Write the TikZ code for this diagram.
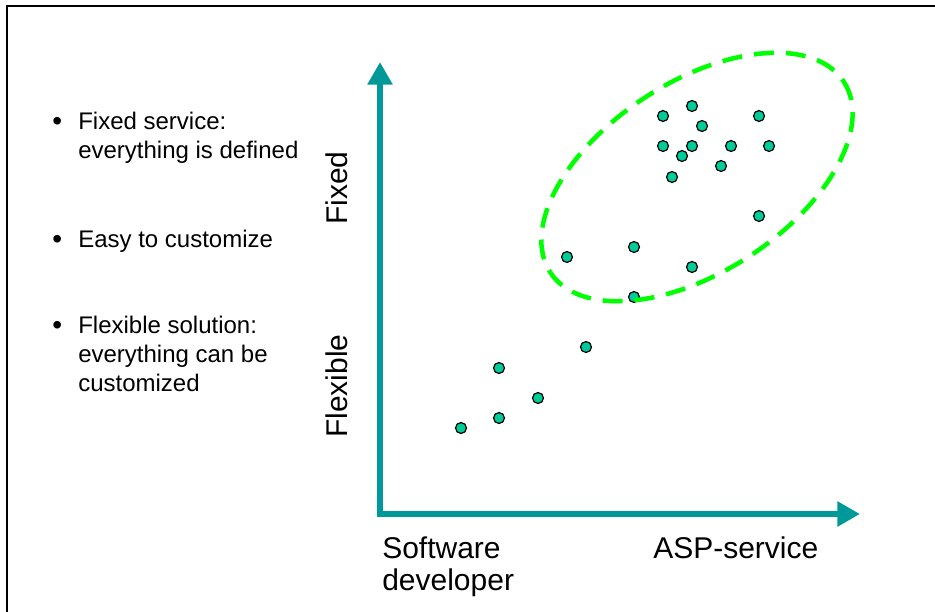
\documentclass[tikz,border=0pt]{standalone}
\usepackage{fontspec}
\setmainfont{Liberation Sans}
\usepackage{tikz}
\usetikzlibrary{arrows.meta}

\definecolor{axisteal}{RGB}{0,153,153}
\definecolor{dotgreen}{RGB}{0,204,153}
\definecolor{ringgreen}{RGB}{0,255,0}

\begin{document}
\begin{tikzpicture}[x=0.75pt,y=-0.75pt,
	dot/.style={shape=circle,draw=black,line width=0.9pt,fill=dotgreen,minimum size=8.2pt,inner sep=0pt},
	axis/.style={draw=axisteal,line width=4.5pt,line join=miter,{Triangle[length=17pt,width=18pt]}-{Triangle[length=17pt,width=18pt]}},
	ring/.style={draw=ringgreen,line width=3.4pt,dash pattern=on 15pt off 9pt},
	item/.style={anchor=base west,inner sep=0pt,font=\fontsize{18pt}{21pt}\selectfont},
	bulletmark/.style={anchor=base west,inner sep=0pt,font=\fontsize{21pt}{24pt}\selectfont},
	axislabel/.style={anchor=base west,inner sep=0pt,font=\fontsize{22.5pt}{27pt}\selectfont}]
	\useasboundingbox (0,0) rectangle (935,611);
	\draw[line width=1.5pt] (7,6) rectangle (1000,700);

	% bullet list
	\node[bulletmark] (b1) at (52,130)  {\textbullet};
	\node[item] (fix1) at (78,129)      {Fixed service:};
	\node[item] (fix2) at (78,158)      {everything is defined};
	\node[bulletmark] (b2) at (52,248)  {\textbullet};
	\node[item] (easy) at (78,247)      {Easy to customize};
	\node[bulletmark] (b3) at (52,334)  {\textbullet};
	\node[item] (flex1) at (78,333)     {Flexible solution:};
	\node[item] (flex2) at (78,362)     {everything can be};
	\node[item] (flex3) at (78,391)     {customized};

	% axes
	\coordinate (ytip) at (380,62);
	\coordinate (origin) at (380,514);
	\coordinate (xtip) at (860,514);
	\draw[axis] (ytip) -- (origin) -- (xtip);

	\node[axislabel,rotate=90] (fixed) at (347,225)    {Fixed};
	\node[axislabel,rotate=90] (flexible) at (347,438) {Flexible};
	\node[axislabel] (soft) at (382,558)  {Software};
	\node[axislabel] (dev) at (382,590)   {developer};
	\node[axislabel] (asp) at (653,558)   {ASP-service};

	% solutions
	\node[dot] (s1) at (663,116) {};
	\node[dot] (s2) at (692,106) {};
	\node[dot] (s3) at (702,126) {};
	\node[dot] (s4) at (759,116) {};
	\node[dot] (s5) at (663,146) {};
	\node[dot] (s6) at (692,146) {};
	\node[dot] (s7) at (682,156) {};
	\node[dot] (s8) at (731,146) {};
	\node[dot] (s9) at (769,146) {};
	\node[dot] (s10) at (672,177) {};
	\node[dot] (s11) at (721,166) {};
	\node[dot] (s12) at (759,216) {};
	\node[dot] (s13) at (634,247) {};
	\node[dot] (s14) at (567,257) {};
	\node[dot] (s15) at (692,267) {};
	\node[dot] (s16) at (634,297) {};
	\node[dot] (s17) at (586,347) {};
	\node[dot] (s18) at (499,368) {};
	\node[dot] (s19) at (538,398) {};
	\node[dot] (s20) at (499,418) {};
	\node[dot] (s21) at (461,428) {};

	% cluster of fixed services
	\coordinate (cluster) at (697,177);
	\draw[ring,rotate around={33:(cluster)}] (cluster) ellipse [x radius=175, y radius=95];
\end{tikzpicture}
\end{document}
